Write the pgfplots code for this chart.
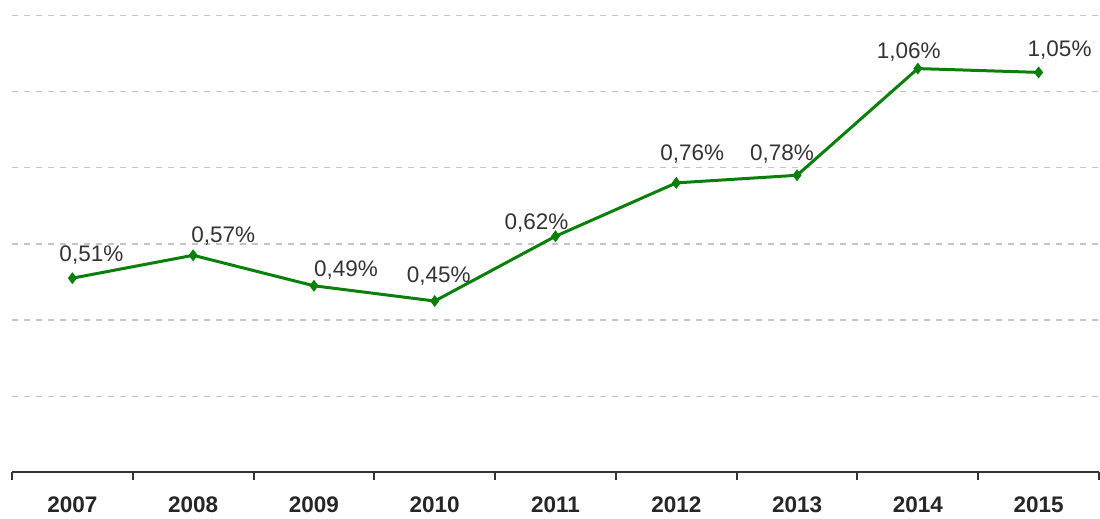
\documentclass[border=0pt]{standalone}
\usepackage{fontspec}
\setmainfont{Liberation Sans}
\usepackage{pgfplots}
\pgfplotsset{compat=1.18}
\usepackage{pgfplotstable}
\definecolor{linegreen}{HTML}{0A800A}
\definecolor{txt}{HTML}{333333}
\definecolor{gridc}{HTML}{C4C4C4}
\pgfplotstableread{
x y lab dx dy
0 0.51 0,51\% 9.5 8.5
1 0.57 0,57\% 15 6.5
2 0.49 0,49\% 16 4.5
3 0.45 0,45\% 2 9.5
4 0.62 0,62\% -9.5 3.5
5 0.76 0,76\% 8 11
6 0.78 0,78\% -7.5 7.5
7 1.06 1,06\% -4.5 5
8 1.05 1,05\% 10.5 8
}\datatab
\begin{document}
\begin{tikzpicture}
\begin{axis}[
  scale only axis,
  width=543.5pt, height=236.25pt,
  xmin=-0.5, xmax=8.5,
  ymin=0, ymax=1.24,
  clip=false,
  axis x line*=bottom,
  axis y line*=left,
  y axis line style={draw=none},
  x axis line style={draw=txt, line width=1pt},
  xtick={0,...,8},
  xticklabels={2007,2008,2009,2010,2011,2012,2013,2014,2015},
  major x tick style={draw=none},
  minor xtick={-0.5,0.5,1.5,2.5,3.5,4.5,5.5,6.5,7.5,8.5},
  minor x tick style={draw=txt, line width=1pt},
  minor tick length=3.5pt,
  xtick align=outside,
  xticklabel style={font=\fontsize{11.25}{13.5}\selectfont\bfseries, text=black!85, anchor=base, yshift=-15.75pt},
  ytick={0.2,0.4,0.6,0.8,1.0,1.2},
  yticklabels={},
  major y tick style={draw=none},
  ymajorgrids,
  y grid style={draw=gridc, line width=0.7pt, dash pattern=on 3pt off 3pt},
]
\addplot[
  color=linegreen, line width=1.5pt,
  mark=diamond*, mark size=2.6pt,
  mark options={solid, fill=linegreen, draw=linegreen, line width=0.5pt},
  point meta=explicit symbolic,
  visualization depends on={\thisrow{dx} \as \dx},
  visualization depends on={\thisrow{dy} \as \dy},
  nodes near coords,
  nodes near coords style={font=\fontsize{11.25}{13.5}\selectfont, text=txt, anchor=base, xshift=\dx pt, yshift=\dy pt, inner sep=0pt},
] table[x=x, y=y, meta=lab] {\datatab};
\coordinate (bl) at (rel axis cs:0,0);
\coordinate (tr) at (rel axis cs:1,1);
\end{axis}
\pgfresetboundingbox
\path ([xshift=-6pt,yshift=-22.75pt]bl) rectangle ([xshift=0.5pt]tr);
\end{tikzpicture}
\end{document}
